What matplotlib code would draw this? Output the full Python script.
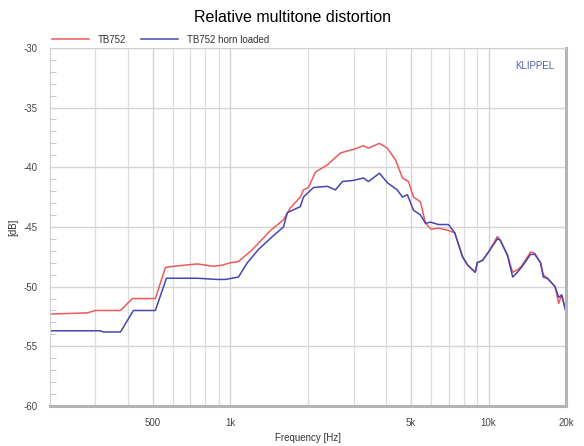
import matplotlib
matplotlib.use("Agg")
import matplotlib.pyplot as plt
from matplotlib.ticker import FixedLocator, MultipleLocator, NullFormatter

plt.rcParams['font.family'] = ['Liberation Sans', 'DejaVu Sans']
plt.rcParams['axes.unicode_minus'] = False

# values
freq_red = [200, 279, 300, 375, 417, 512, 560, 600, 745, 859, 931, 1000, 1074, 1217,
            1429, 1605, 1708, 1866, 1918, 2006, 2136, 2376, 2670, 3000, 3276, 3425,
            3779, 4056, 4365, 4640, 4896, 5120, 5450, 5700, 6000, 6400, 7000, 7400,
            7930, 8300, 8880, 9040, 9480, 10000, 10820, 11100, 11850, 12400, 12930,
            13400, 14550, 15100, 15900, 16300, 16900, 18100, 18700, 19200, 19900]
db_red = [-52.3, -52.2, -52.0, -52.0, -51.0, -51.0, -48.4, -48.3, -48.1, -48.3, -48.2,
          -48.0, -47.9, -46.9, -45.3, -44.4, -43.4, -42.5, -41.9, -41.7, -40.4, -39.8,
          -38.8, -38.5, -38.2, -38.4, -38.0, -38.4, -39.4, -40.9, -41.2, -42.5, -42.9,
          -44.7, -45.2, -45.1, -45.3, -45.5, -47.5, -48.2, -48.8, -48.0, -47.8, -47.1,
          -45.8, -46.1, -47.4, -48.8, -48.6, -48.3, -47.1, -47.2, -48.0, -49.0, -49.3,
          -50.0, -51.4, -50.7, -52.0]

freq_blue = [200, 313, 322, 375, 421, 512, 565, 745, 890, 956, 1074, 1163, 1283, 1455,
             1605, 1662, 1866, 1918, 2098, 2376, 2552, 2715, 3000, 3276, 3425, 3779,
             4056, 4430, 4640, 4850, 5120, 5450, 5700, 5950, 6400, 7000, 7400, 7930,
             8300, 8880, 9040, 9480, 10000, 10820, 11100, 11850, 12400, 12930, 13400,
             14550, 15100, 15900, 16300, 16900, 18100, 18700, 19200, 19900]
db_blue = [-53.7, -53.7, -53.8, -53.8, -52.0, -52.0, -49.3, -49.3, -49.4, -49.4, -49.2,
           -48.0, -46.9, -45.8, -45.0, -43.8, -43.3, -42.5, -41.7, -41.6, -41.9, -41.2,
           -41.1, -40.9, -41.2, -40.5, -41.3, -41.9, -42.5, -42.3, -43.6, -44.0, -44.7,
           -44.6, -44.8, -44.8, -45.5, -47.5, -48.2, -48.8, -48.0, -47.8, -47.1, -46.0,
           -46.1, -47.4, -49.2, -48.8, -48.4, -47.3, -47.3, -48.0, -49.2, -49.3, -50.0,
           -50.9, -50.7, -52.0]

x_ticks = [500, 1000, 5000, 10000, 20000]
x_labels = ["500", "1k", "5k", "10k", "20k"]
x_minor = [300, 400, 500, 600, 700, 800, 900, 2000, 3000, 4000, 6000, 7000, 8000, 9000]

fig = plt.figure(figsize=(5.84, 4.46), dpi=100)
ax = fig.add_axes([0.0856, 0.0897, 0.884, 0.803])

ax.plot(freq_red, db_red, color="#ee5a5a", lw=1.1, label="TB752")
ax.plot(freq_blue, db_blue, color="#4646b0", lw=1.1, label="TB752 horn loaded")

ax.set_xscale("log")
ax.set_xlim(200, 20000)
ax.set_ylim(-60, -30)
ax.set_xticks(x_ticks, x_labels)
ax.xaxis.set_minor_locator(FixedLocator(x_minor))
ax.xaxis.set_minor_formatter(NullFormatter())
ax.yaxis.set_major_locator(MultipleLocator(5))
ax.yaxis.set_minor_locator(MultipleLocator(1))

ax.grid(which="major", color="#d4d4d4", lw=1.0)
ax.grid(which="minor", axis="x", color="#dcdcdc", lw=0.9)
ax.set_axisbelow(True)

ax.tick_params(axis="x", which="both", length=0, labelsize=7, colors="#444444", pad=9)
ax.tick_params(axis="y", which="major", length=0, labelsize=7, colors="#444444", pad=9)
ax.tick_params(axis="y", which="minor", direction="in", length=4, color="#bbbbbb")

for side in ["top", "left"]:
    ax.spines[side].set_color("#d0d0d0")
    ax.spines[side].set_linewidth(0.8)
for side in ["bottom", "right"]:
    ax.spines[side].set_color("#b4b4b4")
    ax.spines[side].set_linewidth(2.2)

ax.set_xlabel("Frequency [Hz]", fontsize=7, color="#333333", labelpad=3)
ax.set_ylabel("[dB]", fontsize=7, color="#333333", labelpad=4)
fig.suptitle("Relative multitone distortion", fontsize=11.5, y=0.978)

ax.text(0.977, 0.963, "KLIPPEL", transform=ax.transAxes, ha="right", va="top",
        fontsize=7, color="#5060a8")

ax.legend(loc="lower left", bbox_to_anchor=(-0.005, 0.995), ncol=2, frameon=False,
          fontsize=7, handlelength=3.8, handletextpad=0.9, columnspacing=1.5,
          borderaxespad=0.1, labelcolor="#333333")

fig.savefig("out.png", dpi=100)
